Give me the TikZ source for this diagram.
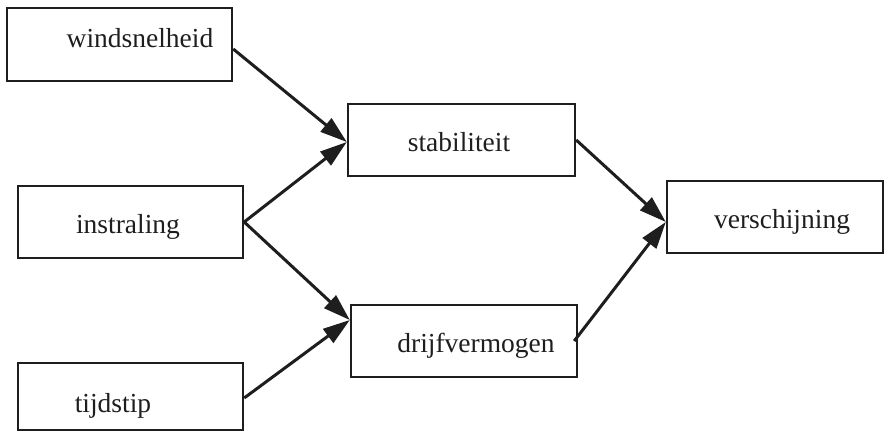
\documentclass[tikz,border=0pt]{standalone}
\usepackage{fontspec}
\setmainfont{Liberation Serif}
\usetikzlibrary{arrows.meta}
\definecolor{ink}{HTML}{1E1E1E}
\tikzset{
  box/.style={draw=ink, line width=2.4pt, rectangle, minimum height=72pt, inner sep=0pt},
  lbl/.style={anchor=base, inner sep=0pt, text=ink, font=\fontsize{27.5}{32}\selectfont},
  conn/.style={draw=ink, line width=3pt, -{Triangle[length=27pt,width=17pt]}}
}
\begin{document}
\begin{tikzpicture}[x=1pt,y=-1pt]
\useasboundingbox (0,0) rectangle (885,433);
\clip (0,0) rectangle (885,433);
% boxes
\node[box, minimum width=225pt, minimum height=73pt] (wind) at (119.5,44.5) {};
\node[box, minimum width=225pt] (instr) at (130.5,222) {};
\node[box, minimum width=225pt, minimum height=67pt] (tijd) at (130.5,396.5) {};
\node[box, minimum width=227pt] (stab) at (461.5,140) {};
\node[box, minimum width=226pt] (drijf) at (464,341) {};
\node[box, minimum width=216pt] (versch) at (775,217) {};
% labels
\node[lbl] (windt) at (140,48) {windsnelheid};
\node[lbl] (instrt) at (128,233) {instraling};
\node[lbl] (tijdt) at (113,412) {tijdstip};
\node[lbl] (stabt) at (459,151) {stabiliteit};
\node[lbl] (drijft) at (476,352) {drijfvermogen};
\node[lbl] (verscht) at (782,228) {verschijning};
% connectors
\draw[conn] ([yshift=-4.5pt]wind.east) -- ([yshift=-2pt]stab.west);
\draw[conn] (instr.east) -- ([yshift=-2pt]stab.west);
\draw[conn] (instr.east) -- ([yshift=21pt]drijf.west);
\draw[conn] ([yshift=-1.5pt]tijd.east) -- ([yshift=21pt]drijf.west);
\draw[conn] (stab.east) -- ([yshift=-5pt]versch.west);
\draw[conn] ([xshift=-4pt]drijf.east) -- ([yshift=-5pt]versch.west);
\end{tikzpicture}
\end{document}
